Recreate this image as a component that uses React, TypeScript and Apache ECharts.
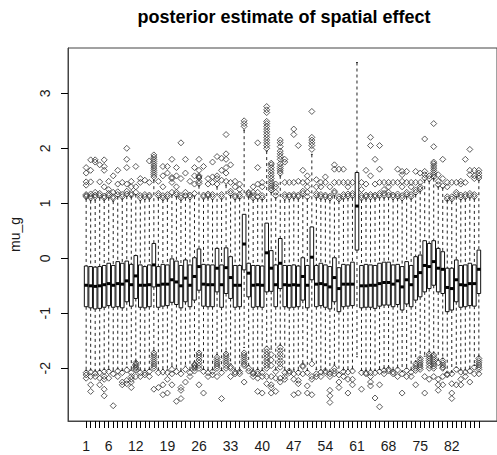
import React, { useEffect, useRef } from "react";
import * as echarts from "echarts";

const titleText = "posterior estimate of spatial effect";
const yAxisName = "mu_g";
const xTickLabels = [1, 6, 12, 19, 26, 33, 40, 47, 54, 61, 68, 75, 82];
const yTickValues = [-2, -1, 0, 1, 2, 3];

const q1 = [
  -0.88, -0.9, -0.92, -0.91, -0.89, -0.86, -0.89, -0.88, -0.9, -0.79,
  -0.87, -0.73, -0.89, -0.9, -0.88, -0.52, -0.89, -0.87, -0.86, -0.8,
  -0.84, -0.9, -0.79, -0.88, -0.76, -0.58, -0.87, -0.88, -0.88, -0.61,
  -0.89, -0.64, -0.73, -0.89, -0.88, -0.21, -0.7, -0.89, -0.88, -0.89,
  -0.61, -0.6, -0.88, -0.55, -0.88, -0.9, -0.89, -0.88, -0.76, -0.9,
  -0.39, -0.88, -0.86, -0.89, -0.92, -0.79, -0.97, -0.88, -0.87, -0.86,
  0.15, -0.9, -0.89, -0.89, -0.91, -0.87, -0.85, -0.85, -0.88, -0.84,
  -0.94, -0.83, -0.88, -0.76, -0.7, -0.61, -0.55, -0.49, -0.61, -0.64,
  -0.97, -0.94, -0.79, -0.89, -0.88, -0.86, -0.87, -0.64,
];
const median = [
  -0.49, -0.5, -0.51, -0.5, -0.48, -0.46, -0.49, -0.46, -0.47, -0.41,
  -0.48, -0.32, -0.49, -0.49, -0.48, -0.12, -0.49, -0.47, -0.47, -0.39,
  -0.43, -0.5, -0.36, -0.49, -0.33, -0.15, -0.47, -0.48, -0.48, -0.18,
  -0.48, -0.17, -0.35, -0.49, -0.49, 0.26, -0.27, -0.49, -0.48, -0.49,
  0.1, -0.18, -0.48, -0.09, -0.48, -0.49, -0.48, -0.49, -0.33, -0.49,
  0.02, -0.47, -0.46, -0.48, -0.52, -0.35, -0.55, -0.47, -0.47, -0.47,
  0.95, -0.5, -0.5, -0.49, -0.49, -0.46, -0.44, -0.44, -0.47, -0.41,
  -0.52, -0.39, -0.48, -0.33, -0.26, -0.13, -0.15, -0.06, -0.18, -0.2,
  -0.53, -0.55, -0.39, -0.48, -0.49, -0.46, -0.46, -0.2,
];
const q3 = [
  -0.14, -0.15, -0.16, -0.15, -0.13, -0.09, -0.13, -0.06, -0.09, -0.05,
  -0.11, 0.05, -0.12, -0.15, -0.12, 0.27, -0.15, -0.11, -0.12, -0.01,
  -0.05, -0.13, -0.03, -0.12, 0.01, 0.17, -0.11, -0.12, -0.12, 0.18,
  -0.12, 0.19, 0.03, -0.13, -0.13, 0.8, -0.09, -0.13, -0.13, -0.14,
  0.64, 0.14, -0.12, 0.36, -0.13, -0.13, -0.12, -0.14, 0.01, -0.13,
  0.57, -0.13, -0.09, -0.12, -0.15, 0.01, -0.17, -0.11, -0.12, -0.07,
  1.56, -0.13, -0.11, -0.12, -0.13, -0.09, -0.07, -0.07, -0.12, -0.11,
  -0.15, -0.06, -0.13, 0.03, 0.06, 0.32, 0.27, 0.32, 0.18, 0.12,
  -0.18, -0.18, -0.03, -0.13, -0.12, -0.09, -0.12, 0.15,
];
const whiskerLow = [
  -2.04, -2.03, -2.05, -2.04, -2.02, -2.02, -2.05, -2.01, -2.04, -1.98,
  -2.03, -1.88, -2.03, -2.04, -2.02, -1.68, -2.03, -2.02, -2.03, -1.96,
  -2.0, -2.05, -1.96, -2.03, -1.88, -1.68, -2.02, -2.03, -2.03, -1.75,
  -2.04, -1.7, -1.92, -2.03, -2.04, -1.62, -1.95, -2.03, -2.02, -2.04,
  -1.6, -1.65, -2.03, -1.58, -2.03, -2.04, -2.03, -2.04, -1.92, -2.04,
  -1.85, -2.02, -2.03, -2.03, -2.06, -1.94, -2.08, -2.03, -2.02, -2.01,
  -1.79, -2.04, -2.04, -2.03, -2.04, -2.02, -2.0, -1.98, -2.03, -1.99,
  -2.06, -2.0, -2.03, -1.88, -1.8, -1.78, -1.7, -1.72, -1.85, -1.82,
  -2.08, -2.07, -1.98, -2.03, -2.03, -2.01, -1.95, -1.78,
];
const whiskerHigh = [
  1.08, 1.05, 1.06, 1.1, 1.06, 1.1, 1.04, 1.12, 1.08, 1.13,
  1.12, 1.16, 1.05, 1.07, 1.08, 1.42, 1.1, 1.06, 1.08, 1.15,
  1.12, 1.06, 1.1, 1.07, 1.13, 1.32, 1.08, 1.1, 1.07, 1.3,
  1.08, 1.33, 1.14, 1.07, 1.09, 2.33, 1.12, 1.06, 1.08, 1.07,
  1.95, 1.2, 1.1, 1.5, 1.06, 1.07, 1.09, 1.08, 1.13, 1.08,
  1.89, 1.1, 1.08, 1.07, 1.05, 1.14, 1.04, 1.08, 1.09, 1.1,
  3.56, 1.06, 1.08, 1.07, 1.08, 1.1, 1.1, 1.11, 1.07, 1.09,
  1.05, 1.12, 1.08, 1.16, 1.22, 1.42, 1.4, 1.45, 1.3, 1.28,
  1.05, 1.04, 1.12, 1.07, 1.08, 1.1, 1.08, 1.42,
];
const outliers = [
  [1.12, 1.14, 1.16, 1.33, 1.39, 1.55, 1.65, -2.08, -2.12, -2.18],
  [1.1, 1.13, 1.17, 1.39, 1.6, 1.79, -2.07, -2.15, -2.3, -2.42],
  [1.12, 1.15, 1.2, 1.75, 1.79, -2.09, -2.15],
  [1.14, 1.18, 1.39, 1.7, -2.08, -2.18, -2.3],
  [1.1, 1.13, 1.3, 1.6, 1.67, 1.79, -2.06, -2.15, -2.2, -2.38, -2.5],
  [1.14, 1.18, 1.25, 1.4, -2.06, -2.18],
  [1.09, 1.12, 1.2, 1.5, -2.1, -2.68],
  [1.16, 1.21, 1.35, 1.6, -2.05, -2.15],
  [1.12, 1.16, 1.38, -2.08, -2.25, -2.3],
  [1.17, 1.22, 1.35, 1.65, 1.8, 2.0, -2.03, -2.22, -2.28],
  [1.15, 1.18, 1.3, 1.4, -2.08, -2.15, -2.2, -2.25, -2.35],
  [1.2, 1.3, 1.67, -1.9, -1.93, -1.95, -1.98, -2.0, -2.03, -2.15],
  [1.1, 1.14, 1.38, 1.45, -2.08, -2.15],
  [1.12, 1.16, 1.42, -2.08, -2.12],
  [1.12, 1.15, 1.38, 1.77, -2.06, -2.15],
  [1.48, 1.52, 1.56, 1.6, 1.64, 1.68, 1.72, 1.76, 1.8, 1.84, 1.88, -1.72, -1.76, -1.8, -1.84, -1.88, -1.92, -1.96, -2.0, -2.38],
  [1.14, 1.18, 1.4, -2.08, -2.35],
  [1.1, 1.14, 1.3, 1.5, 1.67, -2.07, -2.3, -2.48],
  [1.12, 1.16, 1.55, 1.67, -2.08, -2.2, -2.45],
  [1.2, 1.38, 1.45, 1.47, 1.8, -2.02, -2.1, -2.3],
  [1.16, 1.2, 1.3, 1.5, 1.65, -2.06, -2.6],
  [1.1, 1.14, 1.45, 2.1, -2.1, -2.35, -2.4, -2.55],
  [1.14, 1.2, 1.55, 1.8, -2.02, -2.25],
  [1.12, 1.15, 1.4, -2.08, -2.15],
  [1.18, 1.35, 1.5, 1.65, -1.93, -1.95, -1.98, -2.0, -2.05],
  [1.36, 1.4, 1.46, 1.48, 1.5, 1.6, 1.8, -1.72, -1.76, -1.8, -1.85, -1.9, -1.95, -2.0, -2.3],
  [1.12, 1.15, 1.67, -2.06, -2.45],
  [1.14, 1.17, 1.35, 1.45, -2.08, -2.15],
  [1.12, 1.16, 1.38, 1.48, 1.75, -2.06, -2.12],
  [1.35, 1.45, 1.5, 1.85, -1.8, -1.84, -1.88, -1.92, -1.96, -2.0, -2.15],
  [1.12, 1.16, 1.42, 1.6, 1.82, -2.08, -2.55],
  [1.4, 1.55, 1.65, 1.8, 1.9, 2.25, -1.74, -1.78, -1.82, -1.86, -1.9, -1.95, -2.0],
  [1.18, 1.22, 1.38, 1.7, -1.97, -2.0, -2.15],
  [1.11, 1.14, 1.3, 1.4, -2.07, -2.1],
  [1.12, 1.16, 1.25, 1.35, -2.06, -2.1],
  [2.4, 2.45, 2.5, -1.72, -1.76, -1.8, -1.84, -1.88, -1.92, -1.95, -2.25],
  [1.15, 1.18, 1.2, -2.0, -2.05],
  [1.1, 1.14, 1.2, 1.3, -2.08, -2.1, -2.15],
  [1.12, 1.2, 1.35, 1.65, 2.1, -2.06, -2.1, -2.18, -2.42],
  [1.1, 1.14, 1.3, 1.38, -2.08, -2.15, -2.45],
  [2.0, 2.05, 2.1, 2.15, 2.2, 2.25, 2.3, 2.35, 2.4, 2.45, 2.49, 2.65, 2.7, 2.76, -1.65, -1.7, -1.75, -1.8, -1.85, -1.9, -1.95, -2.0, -2.15, -2.28],
  [1.24, 1.28, 1.32, 1.36, 1.4, 1.45, 1.5, 1.55, 1.6, 1.65, 1.7, 1.73, -1.75, -1.85, -1.95, -2.15, -2.3, -2.35, -2.45],
  [1.14, 1.2, 1.3, 1.35, -2.06, -2.18, -2.42],
  [1.55, 1.59, 1.63, 1.67, 1.72, 1.8, 1.85, 1.9, 1.95, 2.03, 2.1, 2.15, -1.62, -1.68, -1.74, -1.8, -1.86, -1.92, -1.98, -2.18, -2.25],
  [1.12, 1.16, 1.38, 1.75, 1.8, -2.08, -2.15, -2.2],
  [1.12, 1.15, 1.38, -2.05, -2.08],
  [1.13, 1.16, 1.38, 2.25, 2.35, -2.1, -2.2, -2.48],
  [1.12, 1.15, 1.4, 2.05, -2.08, -2.22, -2.28, -2.45],
  [1.18, 1.22, 1.38, 1.6, -1.95, -1.97, -2.1],
  [1.12, 1.2, 1.3, 1.4, 1.5, -2.08, -2.32, -2.45],
  [1.98, 2.05, 2.1, 2.15, 2.2, 2.67, -1.92, -2.15, -2.2, -2.48],
  [1.14, 1.18, 1.3, 1.43, -2.1, -2.15],
  [1.12, 1.16, 1.3, 1.38, -2.07, -2.15],
  [1.12, 1.15, 1.38, 1.48, -2.05, -2.08],
  [1.1, 1.13, 1.3, -2.1, -2.15, -2.4, -2.5, -2.62],
  [1.19, 1.22, 1.38, 1.62, 1.7, -2.0, -2.05, -2.1],
  [1.08, 1.12, 1.38, 1.62, -2.12, -2.25, -2.35],
  [1.12, 1.16, 1.38, 1.62, -2.06, -2.15],
  [1.13, 1.17, 1.3, 1.38, -2.07, -2.2, -2.45],
  [1.14, 1.18, 1.38, -2.05, -2.2, -2.3],
  [],
  [1.1, 1.14, 1.25, 1.38, -2.08, -2.38],
  [1.12, 1.15, 1.35, 1.6, -2.08, -2.1],
  [1.12, 1.16, 1.5, 2.05, 2.2, -2.08, -2.15, -2.25, -2.32],
  [1.12, 1.15, 1.35, 1.8, -2.08, -2.54],
  [1.14, 1.18, 1.38, 1.62, 2.05, -2.06, -2.3, -2.7],
  [1.14, 1.18, 1.25, 1.38, -2.04, -2.1],
  [1.15, 1.2, 1.3, 1.38, -2.02, -2.05],
  [1.12, 1.15, 1.38, -2.07, -2.1],
  [1.13, 1.17, 1.38, 1.62, -2.03, -2.15],
  [1.1, 1.14, 1.3, 1.4, 1.52, 1.58, -2.1, -2.45],
  [1.16, 1.2, 1.38, 1.58, -2.04, -2.15],
  [1.12, 1.16, 1.3, 1.38, -2.07, -2.15],
  [1.2, 1.24, 1.38, 1.58, -1.92, -1.96, -2.0, -2.04, -2.3],
  [1.26, 1.3, 1.38, 1.55, -1.82, -1.86, -1.9, -1.94, -1.98, -2.02],
  [1.46, 1.52, 1.58, 2.17, -2.15, -2.45],
  [1.45, 1.5, -1.74, -1.78, -1.82, -1.86, -1.9, -1.95, -2.0, -2.2],
  [1.48, 1.52, 1.56, 1.6, 1.64, 1.68, 1.72, 1.75, 2.03, 2.45, -1.76, -1.8, -1.84, -1.88, -1.92, -1.96, -2.0, -2.15],
  [1.34, 1.4, 1.52, -1.9, -2.2, -2.3, -2.4],
  [1.32, 1.45, 1.8, -1.86, -1.9, -1.94, -1.98, -2.0, -2.15, -2.3],
  [1.08, 1.12, 1.3, 1.38, -2.1, -2.12],
  [1.08, 1.12, 1.38, -2.1, -2.28, -2.45, -2.55],
  [1.16, 1.2, 1.38, -2.02, -2.3],
  [1.11, 1.15, 1.35, 1.4, -2.07, -2.2, -2.3],
  [1.12, 1.16, 1.38, 1.8, -2.07, -2.15],
  [1.14, 1.18, 1.52, 1.6, 1.98, -2.05, -2.25],
  [1.12, 1.16, 1.45, 1.5, 1.6, -1.98, -2.1],
  [1.46, 1.5, 1.55, 1.6, -1.82, -1.86, -1.9, -1.94, -1.98, -2.02, -2.1],
];

const FONT = "'Liberation Sans', Arial, sans-serif";
const INK = "#1a1a1a";

export default function App() {
  const ref = useRef<HTMLDivElement>(null);

  useEffect(() => {
    if (!ref.current) return;
    const chart = echarts.init(ref.current, null, { renderer: "svg" });

    const positions = q1.map((_, i) => i + 1);
    const boxData = positions.map((p, i) => [
      p,
      whiskerLow[i],
      q1[i],
      median[i],
      q3[i],
      whiskerHigh[i],
    ]);
    const outlierData: number[][] = [];
    outliers.forEach((vals, i) => {
      vals.forEach((v) => outlierData.push([positions[i], v]));
    });

    const renderBox = (params: any, api: any) => {
      const x = api.value(0);
      const c = (v: number) => api.coord([x, v]);
      const [cx, yLo] = c(api.value(1));
      const yQ1 = c(api.value(2))[1];
      const yMed = c(api.value(3))[1];
      const yQ3 = c(api.value(4))[1];
      const yHi = c(api.value(5))[1];
      const w = api.size([0.8, 0])[0];
      const dashStyle = { stroke: "#222", lineWidth: 1, lineDash: [3, 3], fill: null };
      const solid = { stroke: "#222", lineWidth: 1, fill: null };
      return {
        type: "group",
        children: [
          { type: "line", shape: { x1: cx, y1: yHi, x2: cx, y2: yQ3 }, style: dashStyle },
          { type: "line", shape: { x1: cx, y1: yQ1, x2: cx, y2: yLo }, style: dashStyle },
          { type: "line", shape: { x1: cx - w / 4, y1: yHi, x2: cx + w / 4, y2: yHi }, style: solid },
          { type: "line", shape: { x1: cx - w / 4, y1: yLo, x2: cx + w / 4, y2: yLo }, style: solid },
          {
            type: "rect",
            shape: { x: cx - w / 2, y: yQ3, width: w, height: yQ1 - yQ3 },
            style: { fill: "#fff", stroke: "#111", lineWidth: 1 },
          },
          {
            type: "line",
            shape: { x1: cx - w / 2, y1: yMed, x2: cx + w / 2, y2: yMed },
            style: { stroke: "#000", lineWidth: 3 },
          },
        ],
      };
    };

    chart.setOption({
      animation: false,
      backgroundColor: "#fff",
      textStyle: { fontFamily: FONT },
      grid: {
        left: 68,
        top: 48,
        width: 434.3,
        height: 373,
        show: true,
        borderColor: "#444",
        borderWidth: 1,
        backgroundColor: "transparent",
      },
      graphic: [
        {
          type: "text",
          x: 284,
          y: 8,
          style: {
            text: titleText,
            fontFamily: FONT,
            fontSize: 18,
            fontWeight: "bold",
            fill: "#000",
            align: "center",
            verticalAlign: "top",
          },
        },
      ],
      xAxis: {
        type: "value",
        min: -3.02,
        max: 92.02,
        axisLine: { show: true, onZero: false, lineStyle: { color: "#444", width: 1 } },
        splitLine: { show: false },
        axisTick: {
          show: true,
          inside: false,
          customValues: positions,
          length: 7,
          lineStyle: { color: "#000", width: 1 },
        },
        axisLabel: {
          customValues: xTickLabels,
          fontSize: 14,
          color: INK,
          margin: 18,
          fontFamily: FONT,
        },
      },
      yAxis: {
        type: "value",
        min: -2.958,
        max: 3.824,
        name: yAxisName,
        nameLocation: "middle",
        nameRotate: 90,
        nameGap: 46,
        nameTextStyle: { fontSize: 14, color: INK, fontFamily: FONT },
        axisLine: { show: true, onZero: false, lineStyle: { color: "#444", width: 1 } },
        splitLine: { show: false },
        axisTick: {
          show: true,
          inside: false,
          customValues: yTickValues,
          length: 7,
          lineStyle: { color: "#000", width: 1 },
        },
        axisLabel: {
          customValues: yTickValues,
          rotate: 90,
          fontSize: 14,
          color: INK,
          margin: 16,
          fontFamily: FONT,
        },
      },
      series: [
        {
          type: "custom",
          renderItem: renderBox,
          data: boxData,
          encode: { x: 0, y: [1, 2, 3, 4, 5] },
          clip: true,
        },
        {
          type: "scatter",
          data: outlierData,
          symbol: "diamond",
          symbolSize: 6,
          itemStyle: { color: "transparent", borderColor: "#333", borderWidth: 1 },
          emphasis: { disabled: true },
        },
      ],
    });

    return () => chart.dispose();
  }, []);

  return (
    <div
      ref={ref}
      style={{ position: "absolute", left: 0, top: 0, width: 497, height: 455, background: "#fff" }}
    />
  );
}
